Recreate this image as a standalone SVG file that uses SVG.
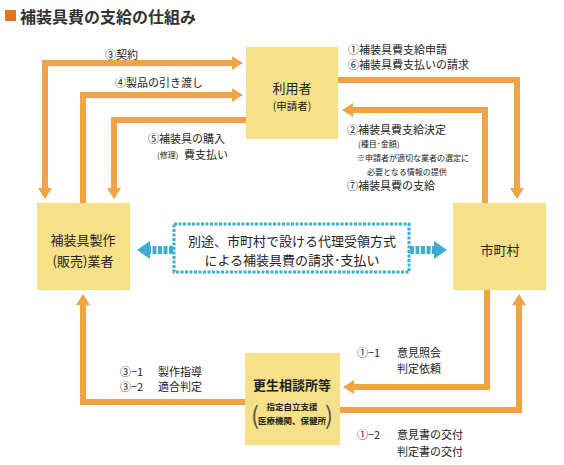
<svg xmlns="http://www.w3.org/2000/svg" width="564" height="465" viewBox="0 0 564 465">
<style>
text{font-family:"Noto Sans CJK JP","Noto Sans",sans-serif;fill:#222}
.lbl{font-size:11px}
.sm{font-size:8px}
.node rect{fill:#F6E18A}
.nt{font-size:13px;text-anchor:middle}
.ns{font-size:10.5px;text-anchor:middle}
.arr{fill:none;stroke:#F0A445;stroke-width:6}
.cy{fill:none;stroke:#3AAFCF;stroke-width:8;stroke-dasharray:4 1.5}
</style>
<defs>
<marker id="ah" markerUnits="userSpaceOnUse" markerWidth="12" markerHeight="14" refX="2" refY="7" orient="auto-start-reverse" viewBox="0 0 12 14">
<path d="M0,0 L11,7 L0,14 z" fill="#F0A445"/>
</marker>
<marker id="ch" markerUnits="userSpaceOnUse" markerWidth="14" markerHeight="18" refX="2" refY="9" orient="auto" viewBox="0 0 14 18">
<path d="M0,0 L13,9 L0,18 z" fill="#3AAFCF"/>
</marker>
</defs>
<rect width="564" height="465" fill="#fff"/>
<rect x="5" y="10" width="11" height="11" fill="#E8731E"/>
<text x="20" y="23" style="font-size:16px;font-weight:bold;fill:#333">補装具費の支給の仕組み</text>

<g id="connectors">
<path class="arr" d="M45,190 V63 H234" marker-start="url(#ah)" marker-end="url(#ah)"/>
<path class="arr" d="M83,203 V95 H234" marker-end="url(#ah)"/>
<path class="arr" d="M246,120 H114 V190" marker-end="url(#ah)"/>
<path class="arr" d="M338,80 H517 V190" marker-end="url(#ah)"/>
<path class="arr" d="M485,203 V110 H351" marker-end="url(#ah)"/>
<path class="arr" d="M487,290 V387 H352" marker-end="url(#ah)"/>
<path class="arr" d="M340,410 H519 V303" marker-end="url(#ah)"/>
<path class="arr" d="M245,402 H83 V303" marker-end="url(#ah)"/>
<path class="cy" d="M173,250 H148" marker-end="url(#ch)"/>
<path class="cy" d="M410,250 H436" marker-end="url(#ch)"/>
</g>

<g id="center">
<rect x="174" y="224" width="235" height="48" fill="#fff" stroke="#3AAFCF" stroke-width="3" stroke-dasharray="3 1.5"/>
<text x="292" y="246" style="font-size:13px;text-anchor:middle">別途、市町村で設ける代理受領方式</text>
<text x="292" y="265" style="font-size:13px;text-anchor:middle">による補装具費の請求･支払い</text>
</g>

<g id="riyosha" class="node">
<rect x="246" y="47" width="92" height="92"/>
<text class="nt" x="292" y="93">利用者</text>
<text class="ns" x="292" y="110">(申請者)</text>
</g>
<g id="gyosha" class="node">
<rect x="37" y="203" width="93" height="87"/>
<text class="nt" x="83" y="245">補装具製作</text>
<text class="nt" x="83" y="266">(販売)業者</text>
</g>
<g id="shichoson" class="node">
<rect x="453" y="203" width="93" height="87"/>
<text class="nt" x="500" y="255">市町村</text>
</g>
<g id="sodanjo" class="node">
<rect x="245" y="353" width="95" height="92"/>
<text class="nt" x="292" y="390" style="font-weight:bold">更生相談所等</text>
<text x="292" y="410" style="font-size:8.5px;font-weight:bold;text-anchor:middle">指定自立支援</text>
<text x="292" y="424" style="font-size:8.5px;font-weight:bold;text-anchor:middle">医療機関、保健所</text>
<text x="251" y="424" style="font-size:24px;fill:#555">(</text>
<text x="325" y="424" style="font-size:24px;fill:#555">)</text>
</g>

<g id="labels">
<text class="lbl" x="105" y="59">③契約</text>
<text class="lbl" x="115" y="87">④製品の引き渡し</text>
<text class="lbl" x="148" y="143">⑤補装具の購入</text>
<text class="sm" x="157" y="158">(修理)</text>
<text class="lbl" x="184" y="159">費支払い</text>
<text class="lbl" x="348" y="54">①補装具費支給申請</text>
<text class="lbl" x="348" y="69">⑥補装具費支払いの請求</text>
<text class="lbl" x="347" y="134">②補装具費支給決定</text>
<text class="sm" x="358" y="147">(種目･金額)</text>
<text class="sm" x="357" y="161">※申請者が適切な業者の選定に</text>
<text class="sm" x="367" y="175">必要となる情報の提供</text>
<text class="lbl" x="347" y="190">⑦補装具費の支給</text>
<text class="lbl" x="120" y="376">③−1</text>
<text class="lbl" x="158" y="376">製作指導</text>
<text class="lbl" x="120" y="391">③−2</text>
<text class="lbl" x="158" y="391">適合判定</text>
<text class="lbl" x="357" y="357">①−1</text>
<text class="lbl" x="397" y="357">意見照会</text>
<text class="lbl" x="397" y="373">判定依頼</text>
<text class="lbl" x="357" y="439">①−2</text>
<text class="lbl" x="397" y="439">意見書の交付</text>
<text class="lbl" x="397" y="456">判定書の交付</text>
</g>
</svg>
